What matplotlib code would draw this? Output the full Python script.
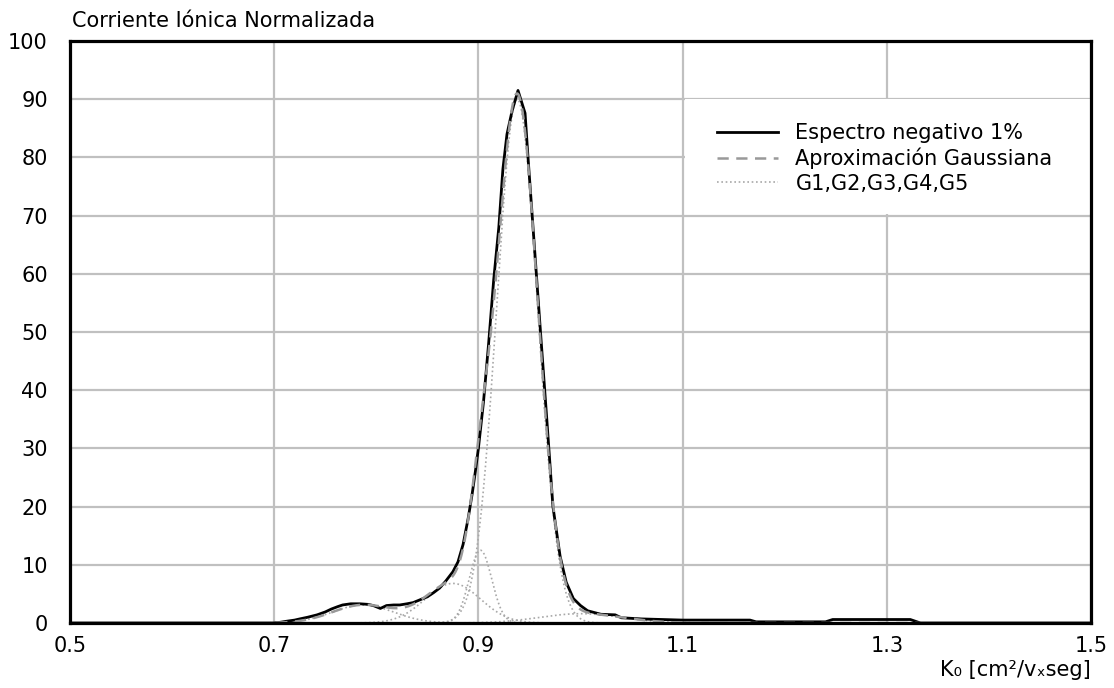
import numpy as np
import matplotlib
matplotlib.use("Agg")
import matplotlib.pyplot as plt
from matplotlib.patches import Rectangle

# Measured spectrum (K0, normalised ionic current)
k_spec = [0.50, 0.70, 0.705, 0.712, 0.72, 0.725, 0.733, 0.742, 0.75, 0.756, 0.762,
          0.767, 0.775, 0.784, 0.792, 0.797, 0.804, 0.81, 0.817, 0.823, 0.83, 0.836,
          0.843, 0.85, 0.856, 0.862, 0.868, 0.875, 0.88, 0.885, 0.89, 0.894, 0.897,
          0.90, 0.905, 0.91, 0.915, 0.92, 0.924, 0.928, 0.933, 0.9388, 0.9457, 0.9486,
          0.9535, 0.96, 0.967, 0.973, 0.98, 0.986, 0.993, 1.0, 1.007, 1.02, 1.034,
          1.04, 1.06, 1.08, 1.10, 1.13, 1.166, 1.172, 1.24, 1.247, 1.323, 1.333, 1.50]
v_spec = [0, 0, 0.1, 0.3, 0.5, 0.7, 1.0, 1.4, 1.9, 2.4, 2.8,
          3.1, 3.3, 3.3, 3.2, 3.0, 2.5, 3.0, 3.1, 3.1, 3.3, 3.5,
          4.0, 4.5, 5.2, 6.0, 7.2, 8.8, 10.5, 13.5, 18, 22.3, 26,
          30, 38, 48, 59, 68, 78, 84, 88, 91.5, 87.6, 80,
          68, 52, 35, 20, 11.5, 7.0, 4.2, 3.0, 2.1, 1.5, 1.4,
          0.9, 0.7, 0.6, 0.5, 0.5, 0.5, 0.2, 0.2, 0.6, 0.6, 0.0, 0]

# Gaussian components G1..G5 (centre, amplitude, sigma)
g_centers = [0.787, 0.875, 0.902, 0.938, 1.000]
g_amps = [3.1, 6.8, 12.5, 90.0, 1.6]
g_sigmas = [0.030, 0.027, 0.011, 0.020, 0.040]

x_ticks = [0.5, 0.7, 0.9, 1.1, 1.3, 1.5]
y_ticks = list(range(0, 101, 10))

labels = ["Espectro negativo 1%", "Aproximación Gaussiana", "G1,G2,G3,G4,G5"]

kk = np.linspace(0.5, 1.5, 2001)
comps = [a * np.exp(-(kk - c) ** 2 / (2 * s ** 2)) for c, a, s in zip(g_centers, g_amps, g_sigmas)]
fit = np.sum(comps, axis=0)

FS = 15
plt.rcParams['font.family'] = ['DejaVu Sans']
fig = plt.figure(figsize=(11.14, 6.88), dpi=100)
ax = fig.add_axes([70 / 1114, 1 - 623 / 688, 1021 / 1114, 582 / 688])

ax.set_xlim(0.5, 1.5)
ax.set_ylim(0, 100)
ax.set_xticks(x_ticks)
ax.set_xticklabels([f"{t:g}" for t in x_ticks])
ax.set_yticks(y_ticks)
ax.set_axisbelow(True)
ax.grid(True, color='#c0c0c0', lw=1.6, zorder=0)
ax.tick_params(length=0, labelsize=FS)
ax.tick_params(axis='y', pad=16)
ax.tick_params(axis='x', pad=9)
for sp in ax.spines.values():
    sp.set_linewidth(2.3)
    sp.set_color('black')
    sp.set_zorder(10)

# white legend area covering grid
ax.add_patch(Rectangle((0.602, 0.703), 0.398, 0.197, transform=ax.transAxes,
                       facecolor='white', edgecolor='none', zorder=1))

for i, c in enumerate(comps):
    ax.plot(kk, c, color='#a8a8a8', lw=1.2, ls=(0, (1, 1.6)), zorder=2,
            label=labels[2] if i == 0 else None)
ax.plot(k_spec, v_spec, color='black', lw=2.0, zorder=3, label=labels[0])
ax.plot(kk, fit, color='#999999', lw=1.8, ls=(0, (4.5, 3)), zorder=4, label=labels[1])

h, l = ax.get_legend_handles_labels()
order = [l.index(t) for t in labels]
leg = ax.legend([h[i] for i in order], [l[i] for i in order],
                loc='upper left', bbox_to_anchor=(0.634, 0.859), frameon=False,
                borderpad=0, borderaxespad=0, handlelength=2.9, handletextpad=0.85,
                labelspacing=0.22, fontsize=FS)
leg.set_zorder(5)

fig.text(72 / 1114, 1 - 27 / 688, "Corriente Iónica Normalizada", fontsize=FS,
         ha='left', va='baseline')
fig.text(1091 / 1114, 12 / 688, "K₀ [cm²/vₓseg]", fontsize=FS, ha='right', va='baseline')

fig.savefig("out.png", dpi=100)
